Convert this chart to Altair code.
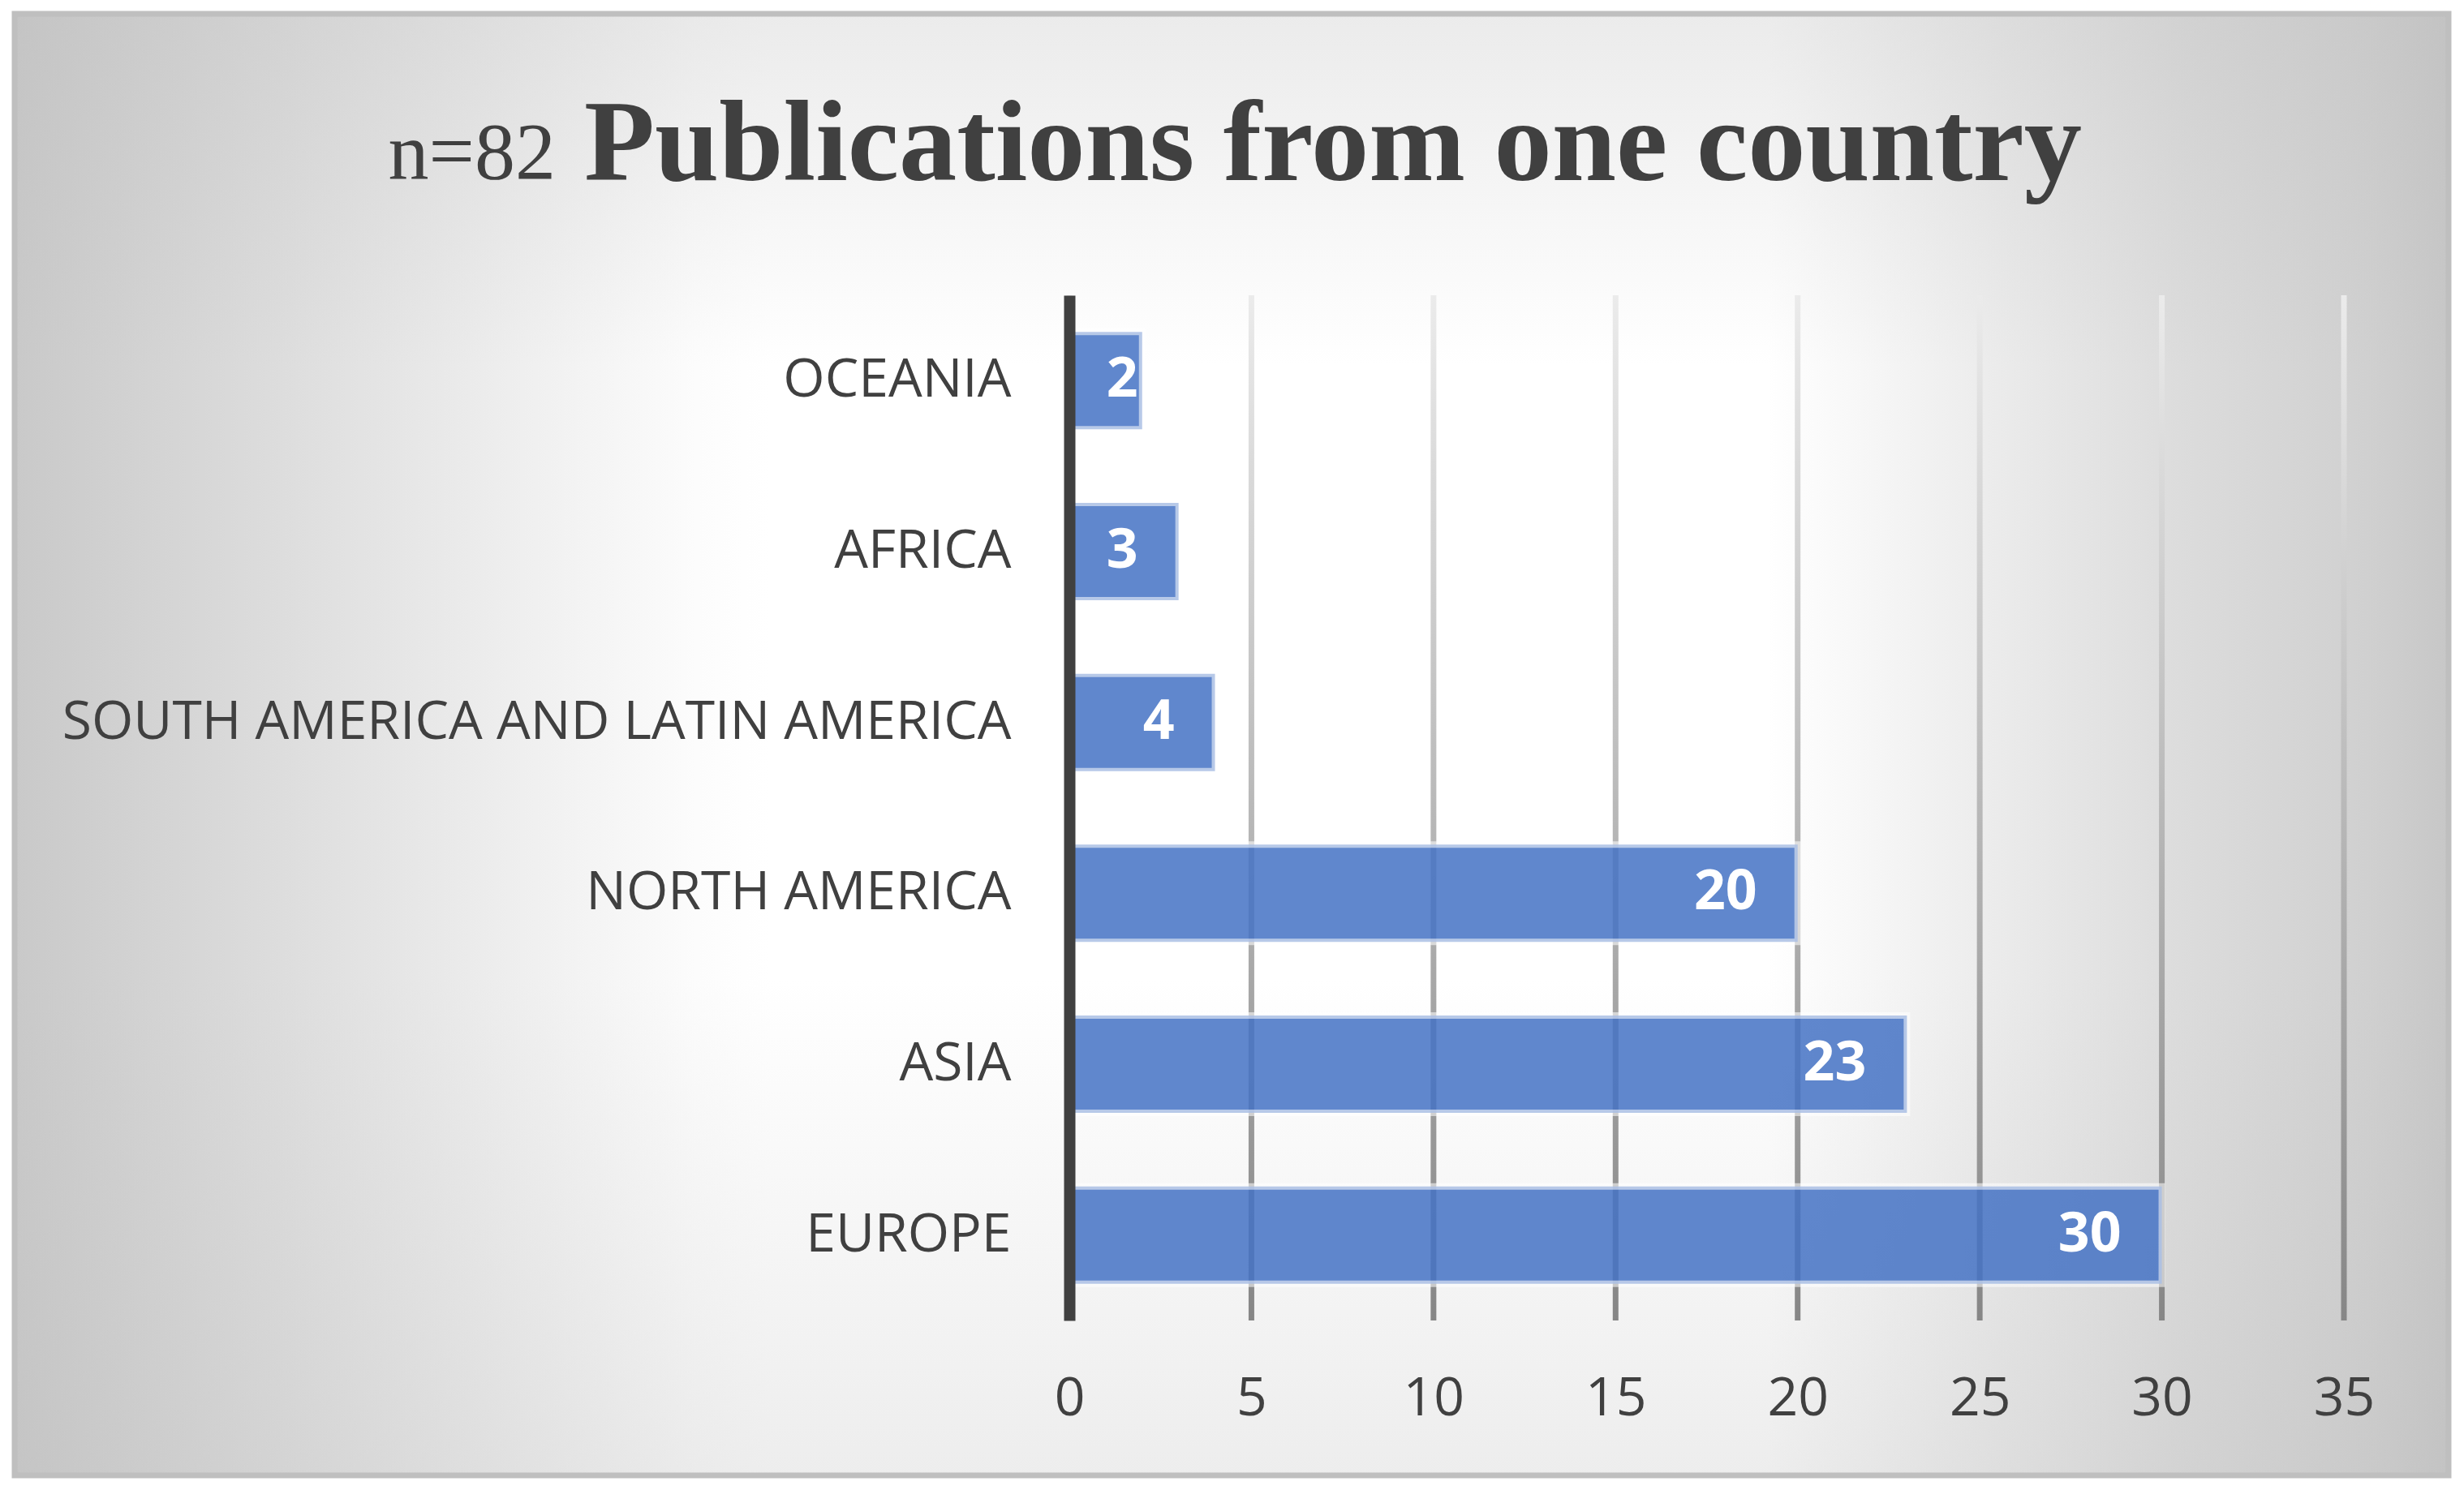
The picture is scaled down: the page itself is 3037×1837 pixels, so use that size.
import altair as alt
import pandas as pd

# ---- data ----
regions = ["OCEANIA", "AFRICA", "SOUTH AMERICA AND LATIN AMERICA",
           "NORTH AMERICA", "ASIA", "EUROPE"]
counts = [2, 3, 4, 20, 23, 30]
tick_values = [0, 5, 10, 15, 20, 25, 30, 35]
title_prefix = "n=82"
title_main = "Publications from one country"

df = pd.DataFrame({"region": regions, "count": counts})
grid_df = pd.DataFrame({"v": tick_values})
one = pd.DataFrame({"k": [0]})

W, H = 1571, 1264
FONT = "Open Sans"
TXT = "#404040"

x_scale = alt.Scale(domain=[0, 35], nice=False, zero=True)
y_scale = alt.Scale(paddingInner=0.43, paddingOuter=0.215)

x_axis = alt.Axis(values=tick_values, domain=False, ticks=False, grid=False,
                  labelFont=FONT, labelFontSize=66, labelColor=TXT,
                  labelPadding=64, labelFlush=False, labelOverlap=False,
                  zindex=1, title=None)
y_axis = alt.Axis(domain=True, domainColor=TXT, domainWidth=14, ticks=False,
                  grid=False, labelFont=FONT, labelFontSize=66, labelColor=TXT,
                  labelPadding=72, labelLimit=3000, zindex=1, title=None)

# chart-area background: white centre fading to grey at the sides
h_stops = [
    alt.GradientStop(offset=0.0, color="#c9c9c9"),
    alt.GradientStop(offset=0.28, color="#fcfcfc"),
    alt.GradientStop(offset=0.31, color="#ffffff"),
    alt.GradientStop(offset=0.72, color="#ffffff"),
    alt.GradientStop(offset=0.745, color="#fafafa"),
    alt.GradientStop(offset=0.81, color="#ececec"),
    alt.GradientStop(offset=0.89, color="#dcdcdc"),
    alt.GradientStop(offset=0.967, color="#d0d0d0"),
    alt.GradientStop(offset=1.0, color="#c7c7c7"),
]
v_stops = [
    alt.GradientStop(offset=0.0, color="rgba(184,184,184,0.28)"),
    alt.GradientStop(offset=0.24, color="rgba(184,184,184,0)"),
    alt.GradientStop(offset=0.66, color="rgba(184,184,184,0)"),
    alt.GradientStop(offset=1.0, color="rgba(184,184,184,0.25)"),
]

bg = alt.Chart(one).mark_rect(
    fill=alt.LinearGradient(gradient="linear", x1=0, x2=1, y1=0, y2=0, stops=h_stops),
    stroke="#bfbfbf", strokeWidth=7,
).encode(x=alt.value(-1300), x2=alt.value(1700), y=alt.value(-347), y2=alt.value(1455))

bg2 = alt.Chart(one).mark_rect(
    fill=alt.LinearGradient(gradient="linear", x1=0, x2=0, y1=0, y2=1, stops=v_stops),
).encode(x=alt.value(-1297), x2=alt.value(1697), y=alt.value(-344), y2=alt.value(1452))

grid = alt.Chart(grid_df).mark_tick(
    orient="vertical", size=H, thickness=7, filled=True,
    fill=alt.LinearGradient(
        gradient="linear", x1=0, x2=0, y1=0, y2=1,
        stops=[alt.GradientStop(offset=0, color="#ebebeb"),
               alt.GradientStop(offset=1, color="#868686")]),
    opacity=1,
).encode(x=alt.X("v:Q", scale=x_scale, axis=x_axis))

bars = alt.Chart(df).mark_bar(
    fill="#4472C4", fillOpacity=0.85, stroke="white", strokeOpacity=0.55, strokeWidth=8
).encode(
    x=alt.X("count:Q", scale=x_scale, axis=x_axis),
    y=alt.Y("region:N", sort=regions, scale=y_scale, axis=y_axis),
)

labels = alt.Chart(df).transform_calculate(
    lx="max(datum.count, 3)"
).mark_text(
    align="right", baseline="middle", dx=-50, font=FONT, fontSize=68,
    fontWeight="bold", color="white"
).encode(
    x=alt.X("lx:Q", scale=x_scale, axis=x_axis),
    y=alt.Y("region:N", sort=regions, scale=y_scale, axis=y_axis),
    text=alt.Text("count:Q"),
)

t1 = alt.Chart(one).mark_text(
    text=title_prefix, align="right", baseline="alphabetic",
    font="Liberation Serif", fontSize=100, color=TXT
).encode(x=alt.value(-633), y=alt.value(-144))

t2 = alt.Chart(one).mark_text(
    text=title_main, align="left", baseline="alphabetic",
    font="Liberation Serif", fontSize=142.5, fontWeight="bold", color=TXT
).encode(x=alt.value(-598), y=alt.value(-142))

chart = alt.layer(bg, bg2, grid, bars, labels, t1, t2).properties(
    width=W, height=H,
    autosize=alt.AutoSizeParams(type="none"),
    padding={"left": 1310, "top": 356, "right": 140, "bottom": 201},
    background="white",
).configure_view(stroke=None)

chart.save("out.html", embed_options={"renderer": "svg", "actions": False})
